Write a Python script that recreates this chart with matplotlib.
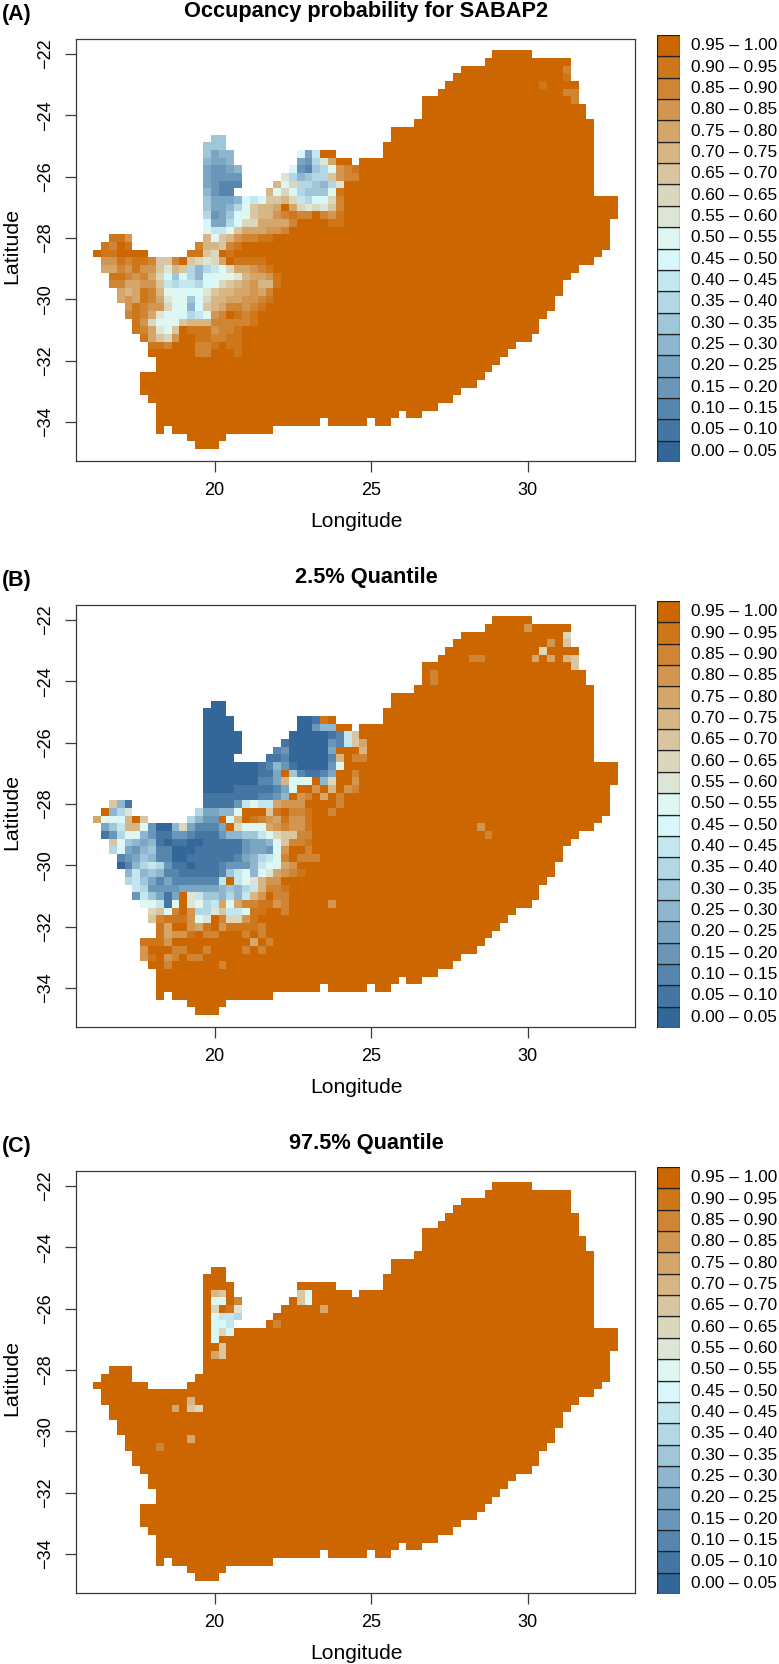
import numpy as np
import matplotlib
matplotlib.use('Agg')
import matplotlib.pyplot as plt
from matplotlib.colors import LinearSegmentedColormap, ListedColormap

plt.rcParams['font.family'] = ['Liberation Sans', 'DejaVu Sans']

# 0.25 degree grid: row 0 is lat -22, column 0 is lon 20 (columns go negative to the west)
W, H = 779, 1664
CELL = 0.25
CODES = '0123456789abcdefghij'   # class index 0..19 per character, j = 0.95-1.00
FIRST_COL = -15
N_COLS = 67
N_ROWS = 52

# land cells per row, (first column, last column)
land_spans = {
    0: [(36, 40)], 1: [(35, 45)], 2: [(32, 45)], 3: [(31, 45)], 4: [(30, 46)],
    5: [(29, 46)], 6: [(27, 46)], 7: [(27, 47)], 8: [(27, 47)], 9: [(26, 48)],
    10: [(23, 48)], 11: [(0, 1), (23, 48)], 12: [(-1, 1), (22, 48)],
    13: [(-1, 2), (11, 15), (22, 48)], 14: [(-1, 2), (11, 17), (19, 48)],
    15: [(-1, 3), (10, 48)], 16: [(-1, 3), (9, 48)], 17: [(-1, 3), (8, 48)],
    18: [(-1, 2), (7, 48)], 19: [(-1, 51)], 20: [(-1, 51)], 21: [(-1, 51)],
    22: [(-1, 50)], 23: [(-1, 50)], 24: [(-13, -11), (-1, 50)],
    25: [(-14, -11), (-2, 50)], 26: [(-15, -9), (-3, 49)], 27: [(-14, 48)],
    28: [(-14, 46)], 29: [(-13, 45)], 30: [(-13, 44)], 31: [(-12, 44)],
    32: [(-12, 43)], 33: [(-11, 43)], 34: [(-11, 42)], 35: [(-10, 41)],
    36: [(-10, 41)], 37: [(-9, 40)], 38: [(-8, 38)], 39: [(-8, 37)],
    40: [(-7, 36)], 41: [(-7, 35)], 42: [(-9, 34)], 43: [(-9, 33)],
    44: [(-9, 31)], 45: [(-8, 30)], 46: [(-7, 28)],
    47: [(-7, 23), (25, 26)], 48: [(-7, 13), (15, 19), (21, 22)],
    49: [(-7, -7), (-5, 7)], 50: [(-3, 1)], 51: [(-2, 0)],
}

# cells below the top class, (row, first column, class codes)
occupancy_cells = [
    (2, 45, 'h'), (3, 45, 'i'), (4, 42, 'i'), (5, 45, 'hh'), (6, 46, 'h'),
    (11, 0, '66'), (12, -1, '666'),
    (13, -1, '6455'), (13, 11, '948jj'),
    (14, -1, '5445'), (14, 11, '437bf'),
    (15, -1, '43345'), (15, 10, '93267aghi'),
    (16, -1, '43333'), (16, 9, 'b75677dghh'),
    (17, -1, '43222'), (17, 8, 'eac77657b'),
    (18, -1, '5322'), (18, 7, 'eac97666ai'),
    (19, -1, '64445989ddec8799ch'),
    (20, -1, '64457adeefjfcbcbdh'),
    (21, -1, '73469adeeghihhjhgi'),
    (22, -1, '94479ccffffhjjjjii'),
    (23, -1, 'a88adfffggh'),
    (24, -13, 'iig'), (24, -1, 'eadeghhii'),
    (25, -14, 'ihji'), (25, -2, 'heedhi'),
    (26, -15, 'jiijjjj'), (26, -3, 'iidcji'),
    (27, -14, 'ggihiihddhjdcbcfjiiii'),
    (28, -14, 'ffhgiggdbed7578acffghi'),
    (29, -13, 'iihghfc969759aaabeffgi'),
    (30, -13, 'hhffggd878879acdefgeei'),
    (31, -12, 'fefiheaaa9abdeeffgfh'),
    (32, -12, 'fgfihfbaa69ceeffgghi'),
    (33, -11, 'gihggcaa59defhhghi'),
    (34, -11, 'hihfbaa978aghjihi'),
    (35, -10, 'igcaaadeeehhhhhi'),
    (36, -10, 'ihfbadjiiighhi'),
    (37, -9, 'ifdcgjjiihhii'),
    (38, -8, 'iihjjjhhijii'),
    (39, -2, 'hhjjji'),
]

lower_cells = [
    (1, 40, 'g'), (2, 45, 'c'), (3, 43, 'g'), (3, 45, 'd'), (4, 42, 'c'),
    (5, 33, 'hh'), (5, 41, 'f'), (5, 43, 'f'), (5, 45, 'ed'), (6, 46, 'd'),
    (7, 28, 'h'), (8, 28, 'h'), (27, 34, 'g'), (28, 35, 'h'),
    (11, 0, '00'), (12, -1, '000'),
    (13, -1, '0000'), (13, 11, '001ij'),
    (14, -1, '0000'), (14, 11, '00355'),
    (15, -1, '00000'), (15, 10, '00000128d'),
    (16, -1, '00000'), (16, 9, '100000328df'),
    (17, -1, '00000'), (17, 8, '23000004'), (17, 19, 'e'),
    (18, -1, '0000'), (18, 7, '112000002ejhh'),
    (19, -1, '00000001253100003a'),
    (20, -1, '0000000114j621124'), (20, 18, 'h'),
    (21, -1, '0000000224eaaaj5c'), (21, 18, 'g'),
    (22, -1, '00001111124ajjgjejgh'),
    (23, -1, '11111112235jghjfjh'),
    (24, -13, 'd51'), (24, -1, '111138a88fggg'), (24, 16, 'h'),
    (25, -14, 'j57b'), (25, -2, '74455ajjjdijhhi'), (25, 15, 'h'),
    (26, -15, 'faa9ejd'), (26, -3, '7533jaejihgfiggi'),
    (27, -14, '468eea3005c42224jcaaafghggi'),
    (28, -14, '137aa5311332111355668acddhh'),
    (29, -13, 'da6545101100111113445adhhi'),
    (30, -13, '7a4356220001111113443agjjh'),
    (31, -12, '23465220011111124578ahjhhh'),
    (32, -12, '0257873110111233358aafg'),
    (33, -11, '585652211111268a5abfghi'),
    (34, -11, '7864242222228j8abegg'),
    (35, -10, '8733334444456578ehhi'),
    (36, -10, '386414jb8665758egjhh'),
    (37, -9, 'aa81ajba78fafhhiigh'), (37, 15, 'g'),
    (38, -8, 'cdahjg77bd88aiijjh'),
    (39, -8, 'dhiiigabjhccgi'),
    (40, -7, 'ifjjgfijgiiiih'),
    (41, -7, 'ifggijhhjjjhjh'),
    (42, -9, 'iiigjjjjjjjjjjfjh'),
    (43, -9, 'gjjjhhjjhjjjjhjh'),
    (44, -9, 'gijghjhh'),
    (45, -6, 'h'), (45, 1, 'h'),
]

upper_cells = [
    (14, 0, 'ed'), (14, 11, 'da'), (15, 0, 'aa'), (15, 3, 'h'), (15, 11, 'da'),
    (16, 0, 'cjib'), (16, 14, 'f'), (17, 0, 'a887'), (18, 0, '998'), (18, 8, 'h'),
    (19, 0, '9c9'), (20, 0, 'aj'), (21, 1, 'd'), (22, 0, 'fd'),
    (28, -3, 'e'), (29, -5, 'f'), (29, -3, 'dc'), (33, -3, 'f'), (34, -7, 'h'),
]

panel_letters = ['(A)', '(B)', '(C)']
panel_titles = ['Occupancy probability for SABAP2', '2.5% Quantile', '97.5% Quantile']
panel_cells = [occupancy_cells, lower_cells, upper_cells]
class_labels = ['%.2f \u2013 %.2f' % (i * 0.05, (i + 1) * 0.05) for i in range(20)]
lon_ticks = [20, 25, 30]
lat_ticks = [-22, -24, -26, -28, -30, -32, -34]

ramp = LinearSegmentedColormap.from_list('occ', ['#336699', '#E0FFFF', '#CC6600'])
class_colors = [ramp(i / 19) for i in range(20)]
cmap = ListedColormap(class_colors)


def build_grid(cells):
    grid = np.full((N_ROWS, N_COLS), np.nan)
    for row, spans in land_spans.items():
        for a, b in spans:
            grid[row, a - FIRST_COL:b - FIRST_COL + 1] = 19
    for row, start, codes in cells:
        for k, ch in enumerate(codes):
            j = start - FIRST_COL + k
            if not np.isnan(grid[row, j]):
                grid[row, j] = CODES.index(ch)
    return grid


def px_axes(fig, left, top, right, bottom):
    return fig.add_axes([left / W, 1 - bottom / H, (right - left) / W, (bottom - top) / H])


lon_edges = 20 + (FIRST_COL + np.arange(N_COLS + 1) - 0.5) * CELL
lat_edges = -22 - (np.arange(N_ROWS + 1) - 0.5) * CELL

fig = plt.figure(figsize=(W / 100, H / 100), dpi=100)
EDGE = '#3a3a3a'

for p in range(3):
    dy = 566 * p
    ax = px_axes(fig, 76.3, 38.7 + dy, 635, 460.7 + dy)
    ax.pcolormesh(lon_edges, lat_edges, build_grid(panel_cells[p]), cmap=cmap,
                  vmin=-0.5, vmax=19.5, edgecolors='none', antialiased=False)
    ax.set_xlim(15.58, 33.43)
    ax.set_ylim(-35.26, -21.5)
    ax.set_xticks(lon_ticks)
    ax.set_yticks(lat_ticks)
    ax.set_yticklabels(['\u2212%d' % abs(v) for v in lat_ticks], rotation=90, va='center')
    ax.tick_params(axis='x', length=7.8, width=0.9, color=EDGE, labelsize=13.1, pad=7.5)
    ax.tick_params(axis='y', length=7.8, width=0.9, color=EDGE, labelsize=13.1, pad=8.5)
    for s in ax.spines.values():
        s.set_linewidth(0.9)
        s.set_color(EDGE)

    fig.text(356.5 / W, 1 - (521.5 + dy) / H, 'Longitude', fontsize=15.1, ha='center', va='center')
    fig.text(12 / W, 1 - (246 + dy) / H, 'Latitude', fontsize=15.4, rotation=90, ha='center', va='center')
    fig.text(366 / W, 1 - (12 + dy) / H, panel_titles[p], fontsize=15.7, fontweight='bold',
             ha='center', va='center')
    fig.text(1.5 / W, 1 - (14.5 + dy) / H, panel_letters[p], fontsize=15.5, fontweight='bold',
             ha='left', va='center')

    # legend column
    lg = px_axes(fig, 656.7, 35 + dy, 680, 462 + dy)
    lg.barh(np.arange(20) + 0.5, [1] * 20, height=1, color=class_colors,
            edgecolor='#222222', linewidth=0.9)
    lg.set_xlim(0, 1)
    lg.set_ylim(0, 20)
    lg.axis('off')
    for i, lab in enumerate(class_labels):
        lg.text(1.47, i + 0.5, lab, fontsize=12.4, ha='left', va='center', clip_on=False)

fig.savefig('out.png', dpi=100)
